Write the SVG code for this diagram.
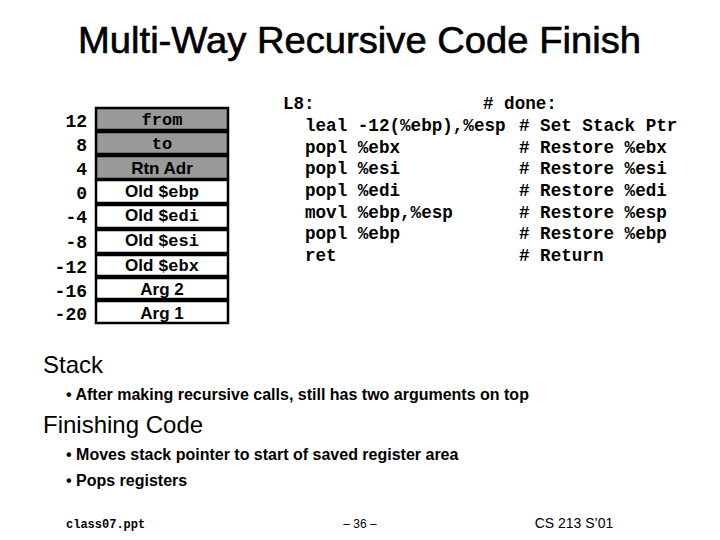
<svg xmlns="http://www.w3.org/2000/svg" width="720" height="540" viewBox="0 0 720 540">
<style>
.t{font-family:"Liberation Sans",Arial,sans-serif}
.m{font-family:"Liberation Mono","Courier New",monospace;font-weight:bold}
.c{font-family:"Liberation Mono","Courier New",monospace;font-weight:bold;font-size:17.6px}
.cell{stroke:#000;stroke-width:2.5}
.g{fill:#999}
.w{fill:#fff}
.lab{font-family:"Liberation Mono","Courier New",monospace;font-weight:bold;font-size:18px;text-anchor:end}
.ct{font-family:"Liberation Sans",Arial,sans-serif;font-weight:bold;font-size:17px;text-anchor:middle}
.cm{font-family:"Liberation Mono","Courier New",monospace;font-weight:bold;font-size:17px;text-anchor:middle}
</style>
<rect width="720" height="540" fill="#fff"/>
<text class="t" x="78" y="53" font-size="36" stroke="#000" stroke-width="0.6" textLength="563" lengthAdjust="spacingAndGlyphs">Multi-Way Recursive Code Finish</text>
<g id="stack">
<g id="labels">
<text class="lab" x="87" y="127">12</text>
<text class="lab" x="87" y="151">8</text>
<text class="lab" x="87" y="175">4</text>
<text class="lab" x="87" y="199">0</text>
<text class="lab" x="87" y="223">-4</text>
<text class="lab" x="87" y="248">-8</text>
<text class="lab" x="87" y="273">-12</text>
<text class="lab" x="87" y="297">-16</text>
<text class="lab" x="87" y="320">-20</text>
</g>
<g id="r1"><rect class="cell g" x="96" y="108" width="132" height="22"/><text class="cm" x="162" y="125">from</text></g>
<g id="r2"><rect class="cell g" x="96" y="132" width="132" height="22"/><text class="cm" x="162" y="149">to</text></g>
<g id="r3"><rect class="cell g" x="96" y="156" width="132" height="23"/><text class="ct" x="162" y="174">Rtn Adr</text></g>
<g id="r4"><rect class="cell w" x="96" y="180" width="132" height="23"/><text class="ct" x="162" y="197">Old <tspan class="m">$ebp</tspan></text></g>
<g id="r5"><rect class="cell w" x="96" y="205" width="132" height="23"/><text class="ct" x="162" y="221">Old <tspan class="m">$edi</tspan></text></g>
<g id="r6"><rect class="cell w" x="96" y="230" width="132" height="23"/><text class="ct" x="162" y="246">Old <tspan class="m">$esi</tspan></text></g>
<g id="r7"><rect class="cell w" x="96" y="255" width="132" height="21"/><text class="ct" x="162" y="271">Old <tspan class="m">$ebx</tspan></text></g>
<g id="r8"><rect class="cell w" x="96" y="278" width="132" height="21"/><text class="ct" x="162" y="295">Arg 2</text></g>
<g id="r9"><rect class="cell w" x="96" y="301" width="132" height="22"/><text class="ct" x="162" y="319">Arg 1</text></g>
</g>
<g id="code" class="c">
<text x="283" y="109">L8:</text><text x="483" y="109"># done:</text>
<text x="305" y="131">leal -12(%ebp),%esp</text><text x="519" y="131"># Set Stack Ptr</text>
<text x="305" y="153">popl %ebx</text><text x="519" y="153"># Restore %ebx</text>
<text x="305" y="174">popl %esi</text><text x="519" y="174"># Restore %esi</text>
<text x="305" y="196">popl %edi</text><text x="519" y="196"># Restore %edi</text>
<text x="305" y="218">movl %ebp,%esp</text><text x="519" y="218"># Restore %esp</text>
<text x="305" y="239">popl %ebp</text><text x="519" y="239"># Restore %ebp</text>
<text x="305" y="261">ret</text><text x="519" y="261"># Return</text>
</g>
<text class="t" x="43" y="373" font-size="24">Stack</text>
<text class="t" x="66" y="400" font-size="16" font-weight="bold">• After making recursive calls, still has two arguments on top</text>
<text class="t" x="43" y="433" font-size="24">Finishing Code</text>
<text class="t" x="66" y="460" font-size="16" font-weight="bold">• Moves stack pointer to start of saved register area</text>
<text class="t" x="66" y="486" font-size="16" font-weight="bold">• Pops registers</text>
<text class="m" x="66" y="528" font-size="12">class07.ppt</text>
<text class="t" x="360" y="528" font-size="12" text-anchor="middle">– 36 –</text>
<text class="t" x="574" y="528" font-size="14" text-anchor="middle">CS 213 S’01</text>
</svg>
